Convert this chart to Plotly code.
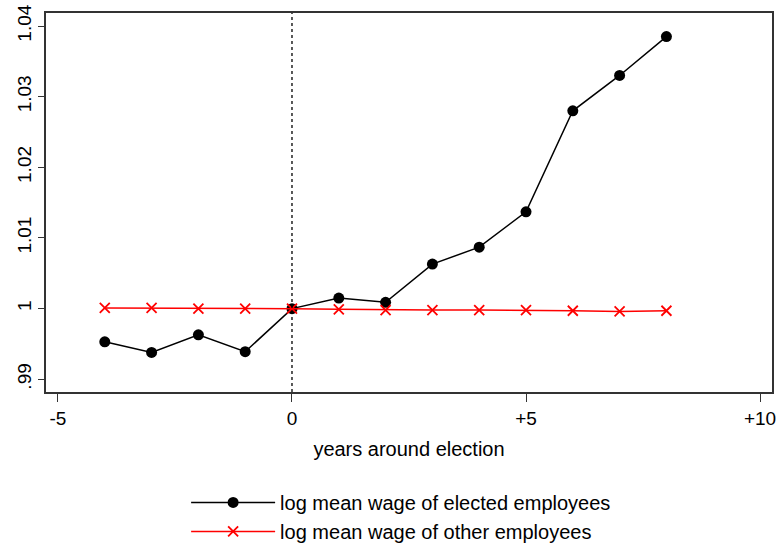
import plotly.graph_objects as go

# years relative to the election
years = [-4, -3, -2, -1, 0, 1, 2, 3, 4, 5, 6, 7, 8]

# log mean wage, normalised to 1 at the election year
elected = [0.9953, 0.9938, 0.9963, 0.9939, 1.0000, 1.0015, 1.0009,
           1.0063, 1.0087, 1.0137, 1.0280, 1.0330, 1.0385]
others = [1.0001, 1.0001, 1.0000, 1.0000, 1.0000, 0.9999, 0.9998,
          0.9998, 0.9998, 0.9998, 0.9997, 0.9996, 0.9997]

x_tickvals = [-5, 0, 5, 10]
x_ticktext = ["-5", "0", "+5", "+10"]
y_tickvals = [0.99, 1.00, 1.01, 1.02, 1.03, 1.04]
y_ticktext = [".99", "1", "1.01", "1.02", "1.03", "1.04"]

font_family = "Liberation Sans, Arial, sans-serif"

fig = go.Figure()
fig.add_trace(go.Scatter(
    x=years, y=elected, mode="lines+markers",
    name="log mean wage of elected employees",
    legendgroup="a",
    line=dict(color="black", width=1.5),
    marker=dict(symbol="circle", size=11, color="black"),
))
fig.add_trace(go.Scatter(
    x=years, y=others, mode="lines+markers",
    name="log mean wage of other employees",
    legendgroup="b",
    line=dict(color="#ff0000", width=1.5),
    marker=dict(symbol="x-thin", size=10,
                line=dict(color="#ff0000", width=1.8)),
))

# election year marker
fig.add_vline(x=0, line=dict(color="black", width=1.3, dash="3px,3px"))

fig.update_layout(
    width=776, height=543,
    margin=dict(l=46, r=4, t=13, b=151, autoexpand=False),
    paper_bgcolor="white", plot_bgcolor="white",
    font=dict(family=font_family, size=19, color="black"),
    showlegend=True,
    legend=dict(
        x=0.193, y=-0.24, xanchor="left", yanchor="top",
        orientation="v", traceorder="grouped", tracegroupgap=0,
        font=dict(size=20), itemwidth=84,
        bgcolor="rgba(0,0,0,0)",
    ),
)
fig.update_xaxes(
    range=[-5.256, 10.256],
    tickvals=x_tickvals, ticktext=x_ticktext,
    ticks="outside", ticklen=8, tickwidth=1.2, tickcolor="#333",
    ticklabeloverflow="allow",
    showline=True, linecolor="#333", linewidth=1.5, mirror=True,
    showgrid=False, zeroline=False,
    title=dict(text="years around election", standoff=14,
               font=dict(size=20)),
    tickfont=dict(size=19),
)
fig.update_yaxes(
    range=[0.98820, 1.04184],
    tickvals=y_tickvals, ticktext=y_ticktext, tickangle=-90,
    ticks="outside", ticklen=6, tickwidth=1.2, tickcolor="#333",
    ticklabeloverflow="allow",
    showline=True, linecolor="#333", linewidth=1.5, mirror=True,
    showgrid=False, zeroline=False,
    tickfont=dict(size=19),
)

fig.write_html("out.html")
